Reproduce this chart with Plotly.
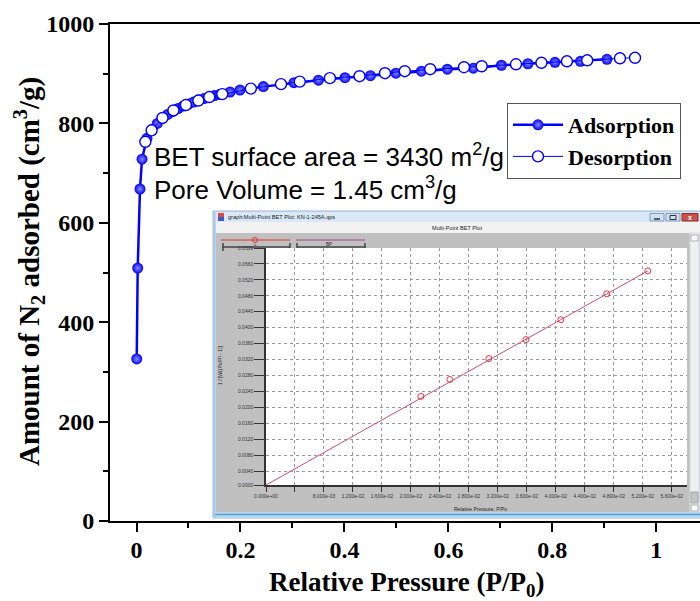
import plotly.graph_objects as go

# ---------------- data ----------------
ads_x = [0.0004, 0.0023, 0.0067, 0.0106, 0.02, 0.03, 0.04, 0.05, 0.06, 0.07, 0.08, 0.09,
         0.10, 0.11, 0.12, 0.13, 0.14, 0.15, 0.16, 0.18, 0.199, 0.244, 0.303, 0.350,
         0.401, 0.450, 0.499, 0.548, 0.598, 0.648, 0.702, 0.753, 0.805, 0.854, 0.905]
ads_y = [326, 509, 668, 728, 770, 788, 800, 810, 818, 824, 830, 835,
         839, 843, 847, 850, 853, 856, 858, 863, 867, 874, 882, 887,
         892, 896, 901, 905, 909, 911, 917, 920, 923, 925, 929]

des_x = [0.959, 0.930, 0.867, 0.828, 0.779, 0.730, 0.664, 0.630, 0.565, 0.516, 0.478, 0.429,
         0.372, 0.314, 0.278, 0.220, 0.165, 0.140, 0.119, 0.095, 0.071, 0.050, 0.029, 0.017]
des_y = [932, 931, 927, 925, 922, 919, 915, 913, 909, 905, 901, 895,
         891, 884, 879, 870, 859, 853, 846, 837, 826, 811, 786, 763]

x_ticks = [0, 0.2, 0.4, 0.6, 0.8, 1.0]
x_ticklabels = ["0", "0.2", "0.4", "0.6", "0.8", "1"]
x_minor = [0.1, 0.3, 0.5, 0.7, 0.9]
y_ticks = [0, 200, 400, 600, 800, 1000]
y_ticklabels = ["0", "200", "400", "600", "800", "1000"]
y_minor = [100, 300, 500, 700, 900]

# inset: multi-point BET plot
bet_x = [0.02138, 0.02538, 0.03076, 0.03586, 0.04069, 0.04703, 0.05269]
bet_y = [0.02275, 0.02700, 0.03225, 0.03700, 0.04200, 0.04850, 0.05425]
fit_x = [0.0, 0.05269]
fit_y = [0.0005, 0.05425]

in_x_ticks = [0.0, 0.004, 0.008, 0.012, 0.016, 0.020, 0.024, 0.028, 0.032, 0.036,
              0.040, 0.044, 0.048, 0.052, 0.056]
in_x_labels = ["0.000e+00", "", "8.000e-03", "1.200e-02", "1.600e-02", "2.000e-02",
               "2.400e-02", "2.800e-02", "3.200e-02", "3.600e-02", "4.000e-02",
               "4.400e-02", "4.800e-02", "5.200e-02", "5.600e-02"]
in_y_ticks = [0.0005, 0.004, 0.008, 0.012, 0.016, 0.020, 0.024, 0.028, 0.032, 0.036,
              0.040, 0.044, 0.048, 0.052, 0.056, 0.0599]
in_y_labels = ["0.0000", "0.0040", "0.0080", "0.0120", "0.0160", "0.0200", "0.0240",
               "0.0280", "0.0320", "0.0360", "0.0400", "0.0440", "0.0480", "0.0520",
               "0.0560", "0.0599"]

# ---------------- geometry helpers (pixels -> paper) ----------------
W, H = 700, 601
L, R, T, B = 110, 700, 24, 521


def px(x):
    return (x - L) / (R - L)


def py(y):
    return (B - y) / (B - T)


SERIF = "Liberation Serif, Times New Roman, serif"
SANS = "Liberation Sans, Arial, sans-serif"
BLUE = "#0000ff"

fig = go.Figure()

fig.add_trace(go.Scatter(
    x=ads_x, y=ads_y, mode="lines+markers", name="Adsorption",
    line=dict(color=BLUE, width=2.5),
    marker=dict(symbol="circle", size=11, color=BLUE,
                gradient=dict(type="radial", color="#8c8cff"),
                line=dict(width=0)),
    xaxis="x", yaxis="y"))
fig.add_trace(go.Scatter(
    x=des_x, y=des_y, mode="lines+markers", name="Desorption",
    line=dict(color=BLUE, width=1),
    marker=dict(symbol="circle", size=11, color="white",
                line=dict(color=BLUE, width=1.4)),
    xaxis="x", yaxis="y"))

# inset traces
fig.add_trace(go.Scatter(
    x=fit_x, y=fit_y, mode="lines", showlegend=False,
    line=dict(color="#c8506e", width=1), xaxis="x2", yaxis="y2"))
fig.add_trace(go.Scatter(
    x=bet_x, y=bet_y, mode="markers", showlegend=False,
    marker=dict(symbol="circle-open", size=6, color="#ee3344", line=dict(width=1)),
    xaxis="x2", yaxis="y2"))

shapes = []


def rect(x0, y0, x1, y1, fill, line=None, lw=0):
    shapes.append(dict(type="rect", xref="paper", yref="paper", layer="below",
                       x0=px(x0), x1=px(x1), y0=py(y1), y1=py(y0),
                       fillcolor=fill,
                       line=dict(color=line or fill, width=lw)))


def seg(x0, y0, x1, y1, color, w=1):
    shapes.append(dict(type="line", xref="paper", yref="paper", layer="below",
                       x0=px(x0), x1=px(x1), y0=py(y0), y1=py(y1),
                       line=dict(color=color, width=w)))


# window frame
rect(213, 211, 702, 518, "#c9dcf1", "#9fb9d6", 1)
rect(214, 212, 702, 222, "#d9e7f6")
rect(216, 222, 702, 233, "#f2f2f2")
rect(216, 233, 690, 512, "#c0c0c0")
rect(690, 233, 699, 512, "#f0f0f0", "#d8d8d8", 1)
rect(691, 235, 698, 241, "#fbfbfb", "#b0b0b0", 1)
rect(691, 505, 698, 511, "#fbfbfb", "#b0b0b0", 1)
rect(691, 492, 698, 503, "#c4c4c4", "#a8a8a8", 1)
rect(213, 512, 702, 518, "#b8d6ee")
seg(213, 514.5, 702, 514.5, "#4fa3cf", 1.5)
seg(214.5, 212, 214.5, 518, "#a9c8e6", 2)
# icon
rect(218, 213, 224, 217, "#e04848")
rect(218, 217, 224, 221, "#3a5cc8")
# buttons
rect(650, 213.5, 664, 221, "#d0e0f2", "#7f9dbd", 1)
seg(654, 219, 660, 219, "#333", 1.5)
rect(666, 213.5, 680, 221, "#d0e0f2", "#7f9dbd", 1)
rect(670, 215.5, 676, 219.5, "rgba(0,0,0,0)", "#333", 1)
rect(682, 213.5, 698, 221, "#c9524a", "#8e2e26", 1)
# inset legend strip
seg(221, 240, 290, 240, "#e03030", 1)
seg(222, 247, 290, 247, "#444", 1.5)
seg(223, 243, 223, 251, "#444", 1.5)
seg(290, 243, 290, 251, "#444", 1.5)
shapes.append(dict(type="circle", xref="paper", yref="paper", layer="below",
                   x0=px(252.5), x1=px(257.5), y0=py(242.5), y1=py(237.5),
                   line=dict(color="#e03030", width=1)))
seg(296, 240, 365, 240, "#a0407a", 1)
seg(297, 247, 365, 247, "#444", 1.5)
seg(297, 243, 297, 251, "#444", 1.5)
seg(365, 243, 365, 251, "#444", 1.5)

annotations = []


def text(x, y, s, size, color="black", family=SANS, anchor="center", angle=0, bold=False):
    annotations.append(dict(xref="paper", yref="paper", x=px(x), y=py(y),
                            text=("<b>%s</b>" % s) if bold else s,
                            showarrow=False, xanchor=anchor, yanchor="middle",
                            textangle=angle,
                            font=dict(family=family, size=size, color=color)))


text(226, 217, "graph:Multi-Point BET Plot: KN-1-245A.qps", 5.6, "#222", anchor="left")
text(457, 228, "Multi-Point BET Plot", 5.6, "#222")
text(690, 217, "x", 7, "white", bold=True)
text(255, 244.5, "a", 4, "#222")
text(329, 244, "BP", 4.5, "#222")
text(220, 365, "1 / [W((Po/P) - 1)]", 5, "#222", angle=-90)
text(452, 509, "Relative Pressure, P/Po", 5, "#222", anchor="left")

# main annotations
text(152, 156, "BET surface area = 3430 m<sup>2</sup>/g", 26, anchor="left")
text(152, 189, "Pore Volume = 1.45 cm<sup>3</sup>/g", 26, anchor="left")
text(29, 272, "Amount of N<sub>2</sub> adsorbed (cm<sup>3</sup>/g)", 29, family=SERIF,
     angle=-90, bold=True)
text(407, 584, "Relative Pressure (P/P<sub>0</sub>)", 27, family=SERIF, bold=True)

tickfont = dict(family=SERIF, size=24, color="black", weight="bold")

fig.update_layout(
    width=W, height=H,
    margin=dict(l=L, r=W - R, t=T, b=H - B),
    paper_bgcolor="white", plot_bgcolor="white",
    showlegend=True,
    legend=dict(x=px(507), y=py(103), xanchor="left", yanchor="top",
                bgcolor="white", bordercolor="#555", borderwidth=1,
                font=dict(family=SERIF, size=22, color="black", weight="bold"),
                itemwidth=50, tracegroupgap=0),
    xaxis=dict(domain=[0, 1], range=[-0.051, 1.084], showgrid=False, zeroline=False,
               showline=True, linecolor="black", linewidth=2, mirror=True,
               tickmode="array", tickvals=x_ticks, ticktext=x_ticklabels,
               ticks="outside", ticklen=9, tickwidth=2, tickcolor="black",
               tickfont=tickfont, ticklabelstandoff=-3,
               minor=dict(tickmode="array", tickvals=x_minor, ticks="outside",
                          ticklen=5, tickwidth=2, tickcolor="black", showgrid=False)),
    yaxis=dict(domain=[0, 1], range=[0, 1000], showgrid=False, zeroline=False,
               showline=True, linecolor="black", linewidth=2, mirror=False,
               tickmode="array", tickvals=y_ticks, ticktext=y_ticklabels,
               ticks="outside", ticklen=9, tickwidth=2, tickcolor="black",
               tickfont=tickfont,
               minor=dict(tickmode="array", tickvals=y_minor, ticks="outside",
                          ticklen=5, tickwidth=2, tickcolor="black", showgrid=False)),
    xaxis2=dict(domain=[px(266), px(687)], anchor="y2", range=[0, 0.0581],
                showgrid=True, gridcolor="#9a9a9a", griddash="dot", gridwidth=1,
                zeroline=False, showline=True, linecolor="#333", linewidth=1.5,
                tickmode="array", tickvals=in_x_ticks, ticktext=in_x_labels,
                ticks="outside", ticklen=5, tickcolor="#333", tickwidth=1,
                tickfont=dict(family=SANS, size=5, color="#333")),
    yaxis2=dict(domain=[py(485), py(248)], anchor="x2", range=[0.0005, 0.0600],
                showgrid=True, gridcolor="#9a9a9a", griddash="dot", gridwidth=1,
                zeroline=False, showline=True, linecolor="#333", linewidth=1.5,
                tickmode="array", tickvals=in_y_ticks, ticktext=in_y_labels,
                ticks="outside", ticklen=10, tickcolor="#333", tickwidth=1.2,
                tickfont=dict(family=SANS, size=5, color="#333")),
    shapes=shapes,
    annotations=annotations,
)

fig.write_html("out.html")
